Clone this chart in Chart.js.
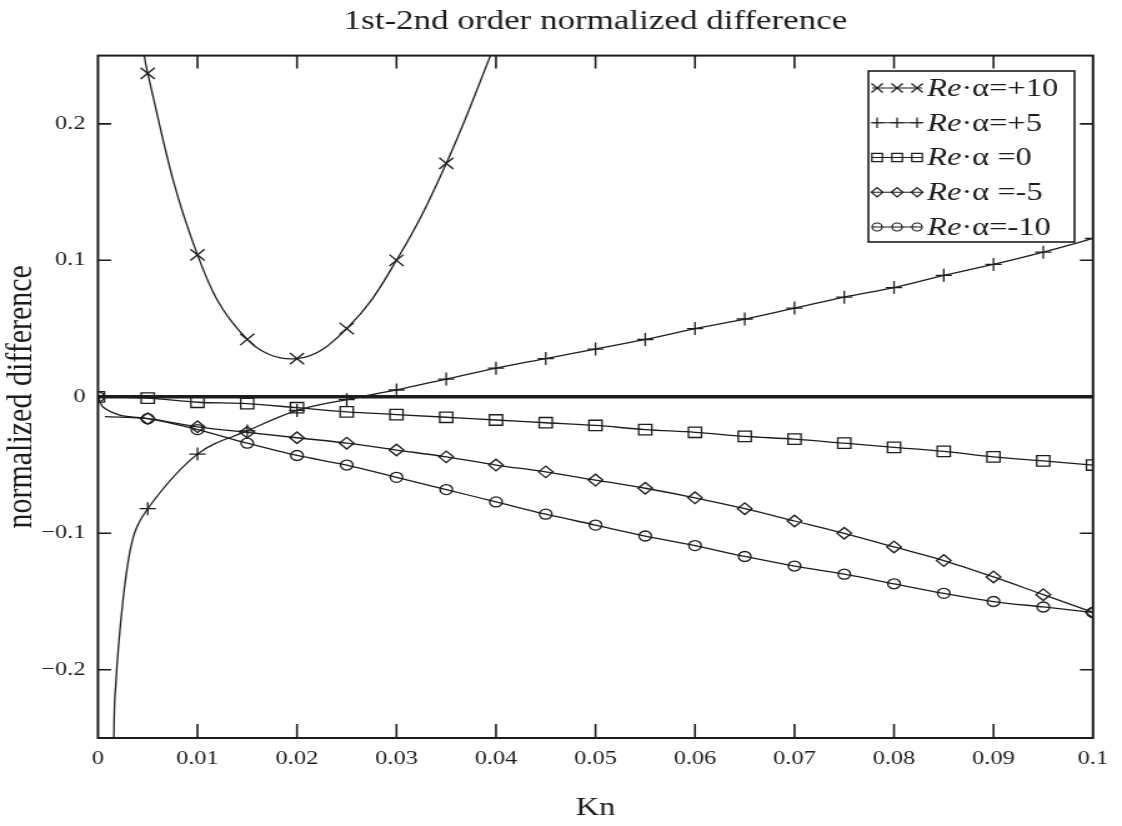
<!DOCTYPE html>
<html>
<head>
<meta charset="utf-8">
<script src="https://cdn.jsdelivr.net/npm/chart.js@4.4.1/dist/chart.umd.min.js"></script>
<style>
  html, body { margin: 0; padding: 0; background: #fff; }
</style>
</head>
<body>
<!-- drawn 898 wide and shown stretched to 1122, like the old Mathcad export -->
<canvas id="plot" width="898" height="826" style="width:1122px;height:826px;display:block"></canvas>
<script>
// Kn positions and normalized difference for each Re·α case
const knPlus10   = [0.004, 0.005, 0.01, 0.015, 0.02, 0.025, 0.03, 0.035, 0.04];
const diffPlus10 = [0.29, 0.237, 0.104, 0.042, 0.028, 0.050, 0.100, 0.171, 0.26];

const knPlus5   = [0.00155, 0.0016, 0.0018, 0.0021, 0.0025, 0.003, 0.0035, 0.004, 0.005, 0.01, 0.015, 0.02, 0.025, 0.03, 0.035, 0.04, 0.045, 0.05, 0.055, 0.06, 0.065, 0.07, 0.075, 0.08, 0.085, 0.09, 0.095, 0.1];
const diffPlus5 = [-0.30, -0.25, -0.21, -0.18, -0.15, -0.122, -0.104, -0.094, -0.082, -0.042, -0.025, -0.010, -0.002, 0.005, 0.013, 0.021, 0.028, 0.035, 0.042, 0.050, 0.057, 0.065, 0.073, 0.080, 0.089, 0.097, 0.106, 0.116];

const knZero   = [0, 0.005, 0.01, 0.015, 0.02, 0.025, 0.03, 0.035, 0.04, 0.045, 0.05, 0.055, 0.06, 0.065, 0.07, 0.075, 0.08, 0.085, 0.09, 0.095, 0.1];
const diffZero = [0, -0.001, -0.004, -0.005, -0.008, -0.011, -0.013, -0.015, -0.017, -0.019, -0.021, -0.024, -0.026, -0.029, -0.031, -0.034, -0.037, -0.040, -0.044, -0.047, -0.050];

const knMinus5   = [0.0007, 0.005, 0.01, 0.015, 0.02, 0.025, 0.03, 0.035, 0.04, 0.045, 0.05, 0.055, 0.06, 0.065, 0.07, 0.075, 0.08, 0.085, 0.09, 0.095, 0.1];
const diffMinus5 = [-0.0145, -0.016, -0.022, -0.026, -0.030, -0.034, -0.039, -0.044, -0.050, -0.055, -0.061, -0.067, -0.074, -0.082, -0.091, -0.100, -0.110, -0.120, -0.132, -0.145, -0.158];

const knMinus10   = [0, 0.0005, 0.005, 0.01, 0.015, 0.02, 0.025, 0.03, 0.035, 0.04, 0.045, 0.05, 0.055, 0.06, 0.065, 0.07, 0.075, 0.08, 0.085, 0.09, 0.095, 0.1];
const diffMinus10 = [0, -0.0075, -0.016, -0.024, -0.034, -0.043, -0.050, -0.059, -0.068, -0.077, -0.086, -0.094, -0.102, -0.109, -0.117, -0.124, -0.130, -0.137, -0.144, -0.150, -0.154, -0.158];

const caseLabels = ['=+10', '=+5', ' =0', ' =-5', '=-10'];
const xTicks = [0.01, 0.02, 0.03, 0.04, 0.05, 0.06, 0.07, 0.08, 0.09];
const yTicks = [-0.2, -0.1, 0, 0.1, 0.2];

const INK = '#1c1c1c';
const SERIF = "'Liberation Serif', 'Times New Roman', serif";

// markers only sit on the 0.005 grid
const onGrid = k => Math.abs(k * 200 - Math.round(k * 200)) < 1e-6;

const styles = [
  { pointStyle: 'crossRot', radius: 8 },
  { pointStyle: 'cross', radius: 6.5 },
  { pointStyle: 'rect', radius: 7.4 },
  { pointStyle: 'rectRot', radius: 5.8 },
  { pointStyle: 'circle', radius: 5 }
];

const series = [
  [knPlus10, diffPlus10],
  [knPlus5, diffPlus5],
  [knZero, diffZero],
  [knMinus5, diffMinus5],
  [knMinus10, diffMinus10]
];

const datasets = series.map(([kn, vals], i) => ({
  label: 'Re·α' + caseLabels[i].trim(),
  data: kn.map((k, j) => ({ x: k, y: vals[j] })),
  borderColor: INK,
  borderWidth: 1.3,
  backgroundColor: 'rgba(0,0,0,0)',
  pointStyle: styles[i].pointStyle,
  pointRadius: ctx => (ctx.raw && onGrid(ctx.raw.x)) ? styles[i].radius : 0,
  pointBorderColor: INK,
  pointBorderWidth: 1.3,
  pointBackgroundColor: 'rgba(0,0,0,0)',
  tension: i === 0 ? 0.4 : 0,
  cubicInterpolationMode: i === 0 ? 'default' : 'monotone',
  clip: 0
}));

// frame, inward ticks, zero line and the legend box
const framePlugin = {
  id: 'frame',
  afterDatasetsDraw(chart) {
    const { ctx, chartArea: a, scales: { x, y } } = chart;
    ctx.save();
    ctx.strokeStyle = INK;

    const y0 = y.getPixelForValue(0);
    ctx.lineWidth = 3.5;
    ctx.beginPath();
    ctx.moveTo(a.left, y0);
    ctx.lineTo(a.right, y0);
    ctx.stroke();

    ctx.lineWidth = 1.6;
    ctx.beginPath();
    xTicks.forEach(v => {
      const px = x.getPixelForValue(v);
      ctx.moveTo(px, a.bottom); ctx.lineTo(px, a.bottom - 14);
      ctx.moveTo(px, a.top); ctx.lineTo(px, a.top + 13);
    });
    yTicks.forEach(v => {
      if (v === 0) return;
      const py = y.getPixelForValue(v);
      ctx.moveTo(a.left, py); ctx.lineTo(a.left + 10.5, py);
      ctx.moveTo(a.right, py); ctx.lineTo(a.right - 10.5, py);
    });
    ctx.stroke();

    ctx.lineWidth = 2;
    ctx.strokeRect(a.left, a.top, a.right - a.left, a.bottom - a.top);
    ctx.restore();
  },
  afterDraw(chart) {
    const { ctx } = chart;
    const box = { left: 695, top: 71, right: 860, bottom: 242 };
    ctx.save();
    ctx.fillStyle = '#fff';
    ctx.fillRect(box.left, box.top, box.right - box.left, box.bottom - box.top);
    ctx.strokeStyle = INK;
    ctx.lineWidth = 1.6;
    ctx.strokeRect(box.left, box.top, box.right - box.left, box.bottom - box.top);

    caseLabels.forEach((txt, i) => {
      const cy = 88 + i * 34.75;
      ctx.strokeStyle = INK;
      ctx.lineWidth = 1.2;
      ctx.beginPath();
      ctx.moveTo(698, cy);
      ctx.lineTo(738, cy);
      ctx.stroke();
      [702, 718, 734].forEach(mx => {
        ctx.fillStyle = 'rgba(0,0,0,0)';
        Chart.helpers.drawPoint(ctx, {
          pointStyle: styles[i].pointStyle,
          radius: styles[i].radius * 0.8,
          rotation: 0,
          borderWidth: 1.2
        }, mx, cy);
      });

      ctx.fillStyle = INK;
      ctx.textBaseline = 'middle';
      ctx.textAlign = 'left';
      ctx.font = 'italic 26px ' + SERIF;
      ctx.fillText('Re', 742, cy + 1);
      const w = ctx.measureText('Re').width;
      ctx.font = '26px ' + SERIF;
      ctx.fillText('·α' + txt, 742 + w, cy + 1);
    });
    ctx.restore();
  }
};

new Chart(document.getElementById('plot'), {
  type: 'line',
  data: { datasets },
  options: {
    responsive: false,
    animation: false,
    events: [],
    layout: { padding: { left: 0, right: 23.2, top: 0, bottom: 0 } },
    elements: { line: { capBezierPoints: false } },
    plugins: {
      legend: { display: false },
      tooltip: { enabled: false },
      title: {
        display: true,
        text: '1st-2nd order normalized difference',
        color: INK,
        fullSize: false,
        font: { family: SERIF, size: 28, weight: 'normal', lineHeight: 1.2 },
        padding: { top: 5, bottom: 17 }
      }
    },
    scales: {
      x: {
        type: 'linear',
        min: 0,
        max: 0.1,
        grid: { display: false, drawTicks: false },
        border: { display: false },
        afterBuildTicks: s => { s.ticks = [0].concat(xTicks, [0.1]).map(v => ({ value: v })); },
        afterFit: s => { s.height = 88; },
        ticks: {
          autoSkip: false,
          maxRotation: 0,
          color: INK,
          padding: 9,
          font: { family: SERIF, size: 19.5 },
          callback: v => v === 0 ? '0' : String(+v.toFixed(3))
        },
        title: {
          display: true,
          text: 'Kn',
          color: INK,
          font: { family: SERIF, size: 26 },
          padding: { top: 0, bottom: 2 }
        }
      },
      y: {
        type: 'linear',
        min: -0.25,
        max: 0.25,
        grid: { display: false, drawTicks: false },
        border: { display: false },
        afterBuildTicks: s => { s.ticks = yTicks.map(v => ({ value: v })); },
        afterFit: s => { s.width = 78.4; },
        ticks: {
          color: INK,
          padding: 10,
          font: { family: SERIF, size: 19.5 },
          callback: v => v === 0 ? '0' : (v < 0 ? '\u2212' : '') + Math.abs(v).toFixed(1)
        },
        title: {
          display: true,
          text: 'normalized difference',
          color: INK,
          font: { family: SERIF, size: 30, lineHeight: 1 },
          padding: { top: 2.6, bottom: 0 }
        }
      }
    }
  },
  plugins: [framePlugin]
});
</script>
</body>
</html>
